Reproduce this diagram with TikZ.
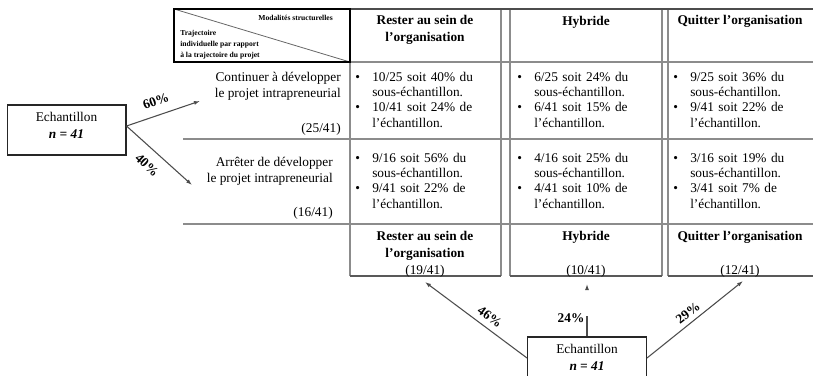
\documentclass[tikz,border=0pt]{standalone}
\usepackage{fontspec}
\setmainfont{Liberation Serif}
\usetikzlibrary{arrows.meta}
\newcommand{\puce}[2]{\noindent\hangindent=12.75pt\hangafter=1\makebox[12.75pt][l]{\textbullet}#1\newline #2\par}
\begin{document}
\begin{tikzpicture}[x=0.75pt,y=-0.75pt,
    grille/.style={draw=black!45,line width=0.9pt},
    fleche/.style={draw=black!70,line width=0.8pt,-{Latex[length=4.5pt,width=3pt]}},
    cellule/.style={anchor=base west,inner sep=0pt,text width=105pt,align=left,font=\fontsize{10}{11.5}\selectfont},
    titre/.style={anchor=base,inner sep=0pt,align=center,font=\bfseries\fontsize{10}{12.75}\selectfont},
    ligne/.style={anchor=base east,inner sep=0pt,align=right,font=\fontsize{10}{12}\selectfont},
    petit/.style={inner sep=0pt,font=\bfseries\fontsize{5.7}{7.9}\selectfont},
    boite/.style={draw=black!85,line width=1pt,minimum width=89pt,minimum height=37.5pt,text depth=7.5pt,align=center,font=\fontsize{10}{12.75}\selectfont},
    taux/.style={font=\bfseries\fontsize{10}{12}\selectfont,inner sep=0pt}]
  \useasboundingbox (0,0) rectangle (813,375);
  \draw[grille] (350,62) -- (813,62) (183,139) -- (813,139) (183,224) -- (813,224);
  \draw[grille] (350,62) -- (350,276) (501,9) -- (501,276) (510,9) -- (510,276)
    (662,9) -- (662,276) (668,9) -- (668,276);
  \draw[black!70,line width=1pt] (350,9) -- (813,9);
  \draw[black!65,line width=1.1pt] (350,276) -- (501,276) (510,276) -- (662,276) (668,276) -- (813,276);
  \draw[black!60,line width=0.6pt] (174,9) -- (350,62);
  \draw[black,line width=1.1pt] (174,9) rectangle (350,62);
  \node[petit,anchor=base east] (modal) at (333,20) {Modalités structurelles};
  \node[petit,anchor=base west,align=left] (traj) at (180,57) {Trajectoire\\individuelle par rapport\\à la trajectoire du projet};
  \node[titre] (c1) at (425,41) {Rester au sein de\\l’organisation};
  \node[titre] (c2) at (586,25) {Hybride};
  \node[titre] (c3) at (740,24) {Quitter l’organisation};
  \node[ligne] (l1) at (341,97) {Continuer à développer\\le projet intrapreneurial};
  \node[ligne] (n1) at (341,132) {(25/41)};
  \node[ligne] (l2) at (333,182) {Arrêter de développer\\le projet intrapreneurial};
  \node[ligne] (n2) at (333,216) {(16/41)};
  \node[cellule] (r1c1) at (355,81) {\puce{10/25 soit 40\% du}{sous-échantillon.}\puce{10/41 soit 24\% de}{l’échantillon.}};
  \node[cellule] (r1c2) at (517,81) {\puce{6/25 soit 24\% du}{sous-échantillon.}\puce{6/41 soit 15\% de}{l’échantillon.}};
  \node[cellule] (r1c3) at (673,81) {\puce{9/25 soit 36\% du}{sous-échantillon.}\puce{9/41 soit 22\% de}{l’échantillon.}};
  \node[cellule] (r2c1) at (355,162) {\puce{9/16 soit 56\% du}{sous-échantillon.}\puce{9/41 soit 22\% de}{l’échantillon.}};
  \node[cellule] (r2c2) at (517,162) {\puce{4/16 soit 25\% du}{sous-échantillon.}\puce{4/41 soit 10\% de}{l’échantillon.}};
  \node[cellule] (r2c3) at (673,162) {\puce{3/16 soit 19\% du}{sous-échantillon.}\puce{3/41 soit 7\% de}{l’échantillon.}};
  \node[titre] (b1) at (425,257) {Rester au sein de\\l’organisation};
  \node[titre] (b2) at (586,240) {Hybride};
  \node[titre] (b3) at (740,240) {Quitter l’organisation};
  \node[titre,font=\fontsize{10}{12}\selectfont] (f1) at (425,274) {(19/41)};
  \node[titre,font=\fontsize{10}{12}\selectfont] (f2) at (586,274) {(10/41)};
  \node[titre,font=\fontsize{10}{12}\selectfont] (f3) at (740,274) {(12/41)};
  \node[boite] (ech) at (66.5,130) {Echantillon\\\textbf{\textit{n = 41}}};
  \node[boite] (echb) at (587,362) {Echantillon\\\textbf{\textit{n = 41}}};
  \coordinate (p60) at (200,101);
  \coordinate (p40) at (192,185);
  \coordinate (p46) at (425,282);
  \coordinate (p29) at (743,281);
  \coordinate (p24) at (587,316);
  \coordinate (q24) at (587,289);
  \coordinate (t24) at (587,284);
  \begin{scope}[fleche]
    \draw ([yshift=3pt]ech.east) to (p60);
    \draw ([yshift=3pt]ech.east) to (p40);
    \draw ([yshift=3pt]echb.west) to (p46);
    \draw ([yshift=3pt]echb.east) to (p29);
    \draw (q24) to (t24);
  \end{scope}
  \draw[draw=black!70,line width=0.8pt] (echb.north) -- (p24);
  \node[taux,rotate=20] (t60) at (156,101) {60\%};
  \node[taux,rotate=-43] (t40) at (147,165) {40\%};
  \node[taux,rotate=-36] (t46) at (490,317) {46\%};
  \node[taux] (t24l) at (571,318) {24\%};
  \node[taux,rotate=38] (t29) at (688,313) {29\%};
\end{tikzpicture}
\end{document}
